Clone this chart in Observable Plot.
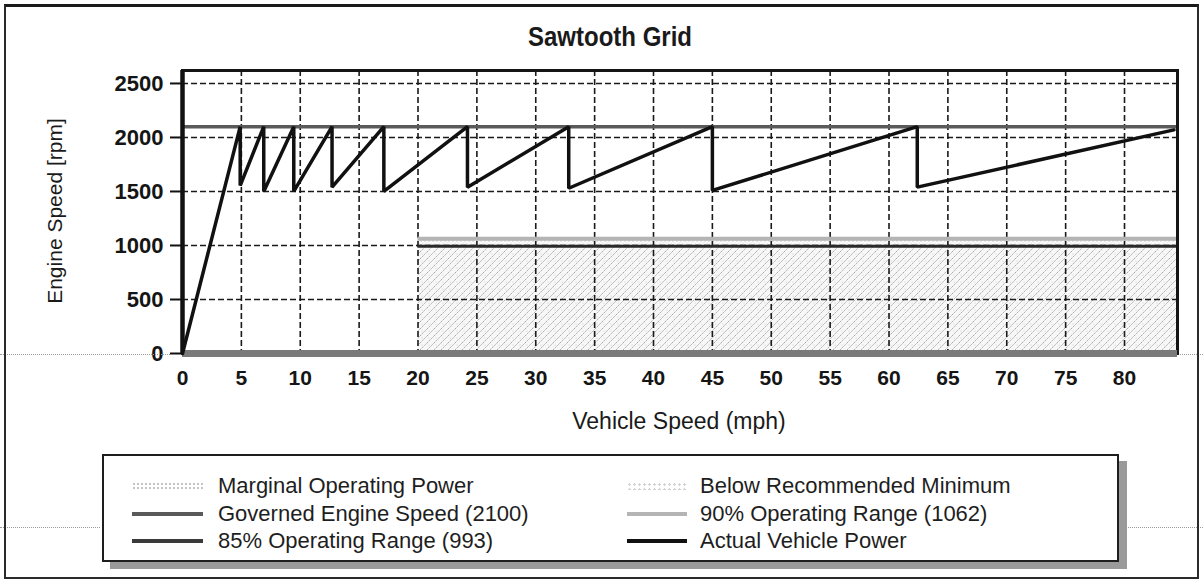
<!DOCTYPE html>
<html>
<head>
<meta charset="utf-8">
<script src="https://cdn.jsdelivr.net/npm/d3@7"></script>
<script src="https://cdn.jsdelivr.net/npm/@observablehq/plot@0.6"></script>
<style>
  html, body { margin: 0; padding: 0; background: #fff; }
  #wrap { position: relative; width: 1203px; height: 582px; overflow: hidden; font-family: Arial, "Liberation Sans", sans-serif; color: #1a1a1a; }
  #wrap svg { position: absolute; left: 0; top: 0; }
  .abs { position: absolute; white-space: nowrap; }
  .lg { position: absolute; height: 26px; line-height: 26px; font-size: 22px; color: #1e1e1e; }
  .sw { position: absolute; }
</style>
</head>
<body>
<div id="wrap"></div>
<script>
// ---- data ----
const xTicks = [0, 5, 10, 15, 20, 25, 30, 35, 40, 45, 50, 55, 60, 65, 70, 75, 80];
const yTicks = [0, 500, 1000, 1500, 2000, 2500];
const xDomain = [0, 84.5];
const yDomain = [0, 2620];
// Actual vehicle power sawtooth (vehicle speed mph, engine speed rpm)
const speed = [0, 4.9, 4.9, 6.9, 6.9, 9.45, 9.45, 12.7, 12.7, 17.1, 17.1, 24.2, 24.2, 32.8, 32.8, 45, 45, 62.4, 62.4, 84.2];
const rpm   = [0, 2100, 1555, 2100, 1500, 2100, 1500, 2100, 1540, 2100, 1500, 2100, 1540, 2100, 1530, 2100, 1510, 2100, 1540, 2070];
const governed = 2100;     // Governed Engine Speed
const range90 = 1062;      // 90% Operating Range
const range85 = 993;       // 85% Operating Range
const zoneStart = 20;      // operating range lines / shaded zone start (mph)
const legendLabels = [
  "Marginal Operating Power", "Below Recommended Minimum",
  "Governed Engine Speed (2100)", "90% Operating Range (1062)",
  "85% Operating Range (993)", "Actual Vehicle Power"
];

const saw = speed.map((s, i) => ({speed: s, rpm: rpm[i]}));
const belowZone = [{x1: zoneStart, x2: xDomain[1], y1: 0, y2: range85}];
const marginalZone = [{x1: zoneStart, x2: xDomain[1], y1: range85, y2: range90}];

const chart = Plot.plot({
  width: 1203,
  height: 582,
  marginLeft: 182,
  marginRight: 26,
  marginTop: 70,
  marginBottom: 229,
  x: {domain: xDomain, axis: null},
  y: {domain: yDomain, axis: null},
  style: {background: "transparent", fontFamily: "Arial, 'Liberation Sans', sans-serif", color: "#111", overflow: "visible"},
  marks: [
    Plot.rect(belowZone, {x1: "x1", x2: "x2", y1: "y1", y2: "y2", fill: "url(#hatch)"}),
    Plot.rect(marginalZone, {x1: "x1", x2: "x2", y1: "y1", y2: "y2", fill: "url(#stipple)"}),
    Plot.ruleX(xTicks.filter(d => d > 0), {stroke: "#1a1a1a", strokeWidth: 1.6, strokeDasharray: "6,3"}),
    Plot.ruleY(yTicks.filter(d => d > 0), {stroke: "#1a1a1a", strokeWidth: 1.6, strokeDasharray: "6,3"}),
    Plot.ruleY([governed], {x1: xDomain[0], x2: xDomain[1], stroke: "#5a5a5a", strokeWidth: 3.5}),
    Plot.ruleY([range90], {x1: zoneStart, x2: xDomain[1], stroke: "#b4b4b4", strokeWidth: 4}),
    Plot.ruleY([range85], {x1: zoneStart, x2: xDomain[1], stroke: "#2a2a2a", strokeWidth: 3}),
    Plot.frame({stroke: "#151515", strokeWidth: 3}),
    Plot.ruleX([0], {stroke: "#111", strokeWidth: 4.5}),
    Plot.ruleY([0], {x1: xDomain[0], x2: xDomain[1], stroke: "#7a7a7a", strokeWidth: 7}),
    Plot.line(saw, {x: "speed", y: "rpm", stroke: "#111", strokeWidth: 3.5, strokeLinejoin: "miter"}),
    Plot.ruleY(yTicks, {x1: 0, x2: 0, insetLeft: -12, stroke: "#111", strokeWidth: 2}),
    Plot.text(yTicks, {x: 0, y: d => d, dx: -19, textAnchor: "end", fontSize: 22, fontWeight: "bold", fill: "#151515", text: d => String(d)}),
    Plot.text(xTicks, {x: d => d, y: 0, dy: 25, fontSize: 21, fontWeight: "bold", fill: "#151515", text: d => String(d)})
  ]
});

// pattern definitions
const NS = "http://www.w3.org/2000/svg";
const defs = document.createElementNS(NS, "defs");
defs.innerHTML = `
  <pattern id="hatch" patternUnits="userSpaceOnUse" width="7" height="7">
    <rect width="7" height="7" fill="#f7f7f7"/>
    <path d="M-1,1 l2,-2 M0,7 l7,-7 M6,8 l2,-2" stroke="#ababab" stroke-width="1" stroke-dasharray="2,1"/>
    <circle cx="2" cy="2" r="0.5" fill="#c8c8c8"/>
  </pattern>
  <pattern id="stipple" patternUnits="userSpaceOnUse" width="4" height="4">
    <rect width="4" height="4" fill="#fcfcfc"/>
    <circle cx="1" cy="1" r="0.7" fill="#bdbdbd"/>
    <circle cx="3" cy="3" r="0.5" fill="#d0d0d0"/>
  </pattern>`;
chart.insertBefore(defs, chart.firstChild);

const wrap = document.getElementById("wrap");
wrap.appendChild(chart);

function addDiv(html, style, cls) {
  const d = document.createElement("div");
  d.className = cls || "abs";
  d.innerHTML = html;
  Object.assign(d.style, style);
  wrap.appendChild(d);
  return d;
}

// title and axis titles
addDiv("Sawtooth Grid", {left: "610px", top: "37px", transform: "translate(-50%,-50%) scaleY(1.12)", fontSize: "24px", fontWeight: "bold", color: "#1a1a1a"});
addDiv("Vehicle Speed (mph)", {left: "679px", top: "421px", transform: "translate(-50%,-50%)", fontSize: "23px", color: "#1a1a1a"});
addDiv("Engine Speed [rpm]", {left: "55px", top: "211px", transform: "translate(-50%,-50%) rotate(-90deg)", fontSize: "21px", color: "#1a1a1a"});

// scan artefact dotted lines
addDiv("", {left: "0px", top: "354px", width: "170px", height: "0px", borderTop: "1px dotted #9a9a9a"});
addDiv("", {left: "1180px", top: "354px", width: "23px", height: "0px", borderTop: "1px dotted #9a9a9a"});
addDiv("", {left: "0px", top: "527px", width: "100px", height: "0px", borderTop: "1px dotted #9a9a9a"});
addDiv("", {left: "1128px", top: "527px", width: "75px", height: "0px", borderTop: "1px dotted #9a9a9a"});

// legend box
addDiv("", {left: "102px", top: "454px", width: "1013px", height: "104px", border: "2px solid #1e1e1e", background: "#fff", boxShadow: "8px 7px 0 #9a9a9a"});

const rowsY = [486, 514, 541];
const colSw = [[132, 203], [627, 687]];
const colTx = [218, 700];
const swatchStyles = [
  {height: "8px", background: "radial-gradient(#c4c4c4 35%, transparent 40%) 0 0/4px 4px"},
  {height: "8px", background: "radial-gradient(#d2d2d2 35%, transparent 40%) 0 0/5px 5px"},
  {height: "4px", background: "#5a5a5a"},
  {height: "4px", background: "#b4b4b4"},
  {height: "4px", background: "#3a3a3a"},
  {height: "4px", background: "#111"}
];
legendLabels.forEach((lab, i) => {
  const row = Math.floor(i / 2), col = i % 2;
  const cy = rowsY[row];
  const st = swatchStyles[i];
  const h = parseFloat(st.height);
  addDiv("", Object.assign({left: colSw[col][0] + "px", width: (colSw[col][1] - colSw[col][0]) + "px", top: (cy - h / 2) + "px"}, st), "sw");
  addDiv(lab, {left: colTx[col] + "px", top: (cy - 13) + "px"}, "lg");
});

// outer frame
addDiv("", {left: "4px", top: "4px", width: "1191px", height: "570px", border: "2px solid #2a2a2a", borderTop: "3px solid #1a1a1a", pointerEvents: "none"});
</script>
</body>
</html>
